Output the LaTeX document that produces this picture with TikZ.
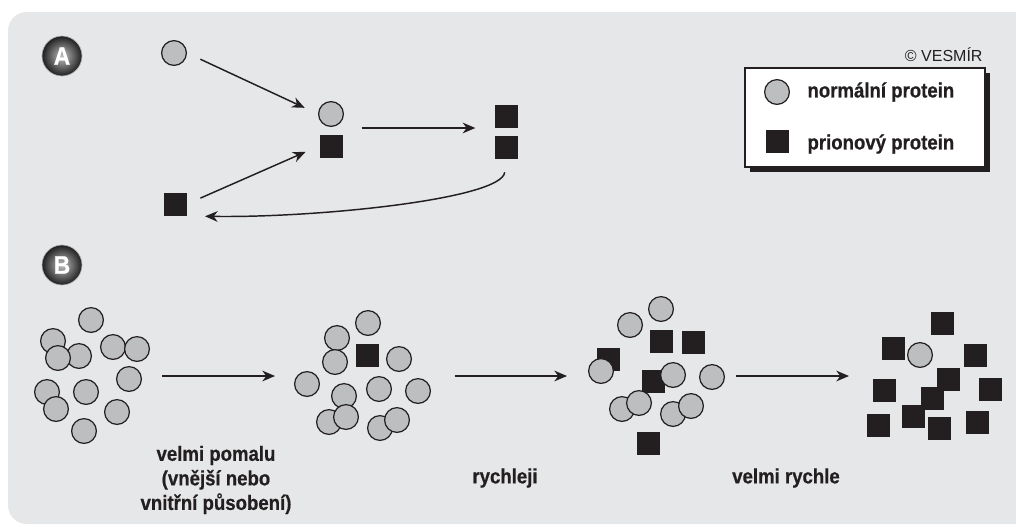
\documentclass[tikz,border=0pt]{standalone}
\usepackage{fontspec}
\setmainfont{Liberation Sans}
\newfontfamily\heavyfont{Liberation Sans Bold}[FakeStretch=0.9, FakeBold=0.6]
\usetikzlibrary{arrows.meta}
\definecolor{ink}{HTML}{231F20}
\definecolor{protgray}{HTML}{BCBEC0}
\definecolor{panelgray}{HTML}{E6E7E8}
\tikzset{every picture/.style={line width=0.75pt}}
\tikzset{
  normal/.style={circle, draw=ink, fill=protgray, line width=0.9pt, minimum size=18.6pt, inner sep=0pt},
  prion/.style={rectangle, fill=ink, minimum size=17.25pt, inner sep=0pt},
  arr/.style={draw=ink, line width=1.1pt, -{Stealth[length=9.5pt, width=8pt, inset=3pt]}},
  lbl/.style={text=ink, inner sep=0pt, align=center, font=\heavyfont\fontsize{15.5}{18.4}\selectfont},
  badge/.style={circle, minimum size=30pt, inner sep=0pt, inner color=black!25, outer color=black!88, draw=black!30, line width=0.5pt, text=white, font=\heavyfont\fontsize{19}{19}\selectfont}
}

\begin{document}
\begin{tikzpicture}[x=0.75pt,y=0.75pt,yscale=-1,xscale=1]
\useasboundingbox (0,0) rectangle (1016,526);
\clip (0,0) rectangle (1016,526);

%Panel background
\fill [panelgray, rounded corners=14pt] (8,12) rectangle (1040,524);

%Badges
\node [badge] (bdgA) at (62,56) {A};
\node [badge] (bdgB) at (62,265) {B};

%Legend box with shadow
\fill [ink] (750,73) rectangle (990,172);
\draw [ink, line width=1.1pt, fill=white] (745,68) rectangle (985,167);
\node [normal] (legN) at (777,92) {};
\node [prion] (legP) at (777,141) {};
\node [lbl, anchor=west] (legNt) at (807,92) {normální protein};
\node [lbl, anchor=west] (legPt) at (807,144) {prionový protein};
% Text Node
\node [text=ink, inner sep=0pt, anchor=east, font=\fontsize{12}{12}\selectfont] (copyr) at (983,55) {© VESMÍR};

%Panel A: proteins
\node [normal] (nA1) at (174,53) {};
\node [prion] (pA1) at (175,204) {};
\node [normal] (nA2) at (331,114) {};
\node [prion] (pA2) at (331,146) {};
\node [prion] (pA3) at (506,116) {};
\node [prion] (pA4) at (506,147) {};
\coordinate (midA) at (331,128);
\coordinate (rightA) at (506,128);

%Panel A: arrows
\draw [arr, shorten <=11pt, shorten >=11pt] (nA1.east) -- (nA2.west);
\draw [arr, shorten <=11pt, shorten >=11pt] (pA1.east) -- (pA2.west);
\draw [arr, shorten <=23pt, shorten >=23pt] (midA) -- (rightA);
\draw [arr, shorten <=10pt, shorten >=13.5pt] (pA4.south) .. controls +(-4,40) and +(130,2) .. (pA1.south east);

%Panel B: cluster 1 (normal only)
\node [normal] (c1n1) at (91,320) {};
\node [normal] (c1n2) at (53,341) {};
\node [normal] (c1n3) at (79,356) {};
\node [normal] (c1n4) at (58,358) {};
\node [normal] (c1n5) at (113,347) {};
\node [normal] (c1n6) at (137,349) {};
\node [normal] (c1n7) at (129,379) {};
\node [normal] (c1n8) at (47,392) {};
\node [normal] (c1n9) at (56,409) {};
\node [normal] (c1n10) at (86,392) {};
\node [normal] (c1n11) at (117,412) {};
\node [normal] (c1n12) at (84,431) {};

%Panel B: cluster 2 (one prion)
\node [normal] (c2n1) at (368,323) {};
\node [normal] (c2n2) at (337,338) {};
\node [normal] (c2n3) at (335,362) {};
\node [prion] (c2p1) at (367,355) {};
\node [normal] (c2n4) at (399,359) {};
\node [normal] (c2n5) at (307,384) {};
\node [normal] (c2n6) at (344,396) {};
\node [normal] (c2n7) at (329,422) {};
\node [normal] (c2n8) at (346,417) {};
\node [normal] (c2n9) at (379,389) {};
\node [normal] (c2n10) at (418,391) {};
\node [normal] (c2n11) at (380,428) {};
\node [normal] (c2n12) at (397,420) {};

%Panel B: cluster 3 (mixed)
\node [normal] (c3n1) at (661,309) {};
\node [normal] (c3n2) at (630,325) {};
\node [prion] (c3p1) at (661,341) {};
\node [prion] (c3p2) at (693,342) {};
\node [prion] (c3p3) at (608,359) {};
\node [normal] (c3n3) at (601,371) {};
\node [prion] (c3p4) at (653,381) {};
\node [normal] (c3n4) at (673,375) {};
\node [normal] (c3n5) at (712,377) {};
\node [normal] (c3n6) at (622,409) {};
\node [normal] (c3n7) at (639,403) {};
\node [normal] (c3n8) at (673,414) {};
\node [normal] (c3n9) at (691,406) {};
\node [prion] (c3p5) at (648,443) {};

%Panel B: cluster 4 (prions)
\node [prion] (c4p1) at (942,323) {};
\node [prion] (c4p2) at (893,348) {};
\node [normal] (c4n1) at (920,355) {};
\node [prion] (c4p3) at (975,355) {};
\node [prion] (c4p4) at (948,379) {};
\node [prion] (c4p5) at (884,390) {};
\node [prion] (c4p6) at (990,389) {};
\node [prion] (c4p7) at (932,398) {};
\node [prion] (c4p8) at (878,425) {};
\node [prion] (c4p9) at (913,416) {};
\node [prion] (c4p10) at (939,428) {};
\node [prion] (c4p11) at (977,422) {};

%Panel B: arrows
\coordinate (s1) at (162,376);
\coordinate (e1) at (275,376);
\coordinate (s2) at (455,376);
\coordinate (e2) at (567,376);
\coordinate (s3) at (736,376);
\coordinate (e3) at (849,376);
\draw [arr] (s1) -- (e1);
\draw [arr] (s2) -- (e2);
\draw [arr] (s3) -- (e3);

% Text Node
\node [lbl] (slow) at (216,480) {velmi pomalu\\(vnější nebo\\vnitřní působení)};
% Text Node
\node [lbl] (faster) at (505,478) {rychleji};
% Text Node
\node [lbl] (fast) at (786,478) {velmi rychle};

\end{tikzpicture}
\end{document}
